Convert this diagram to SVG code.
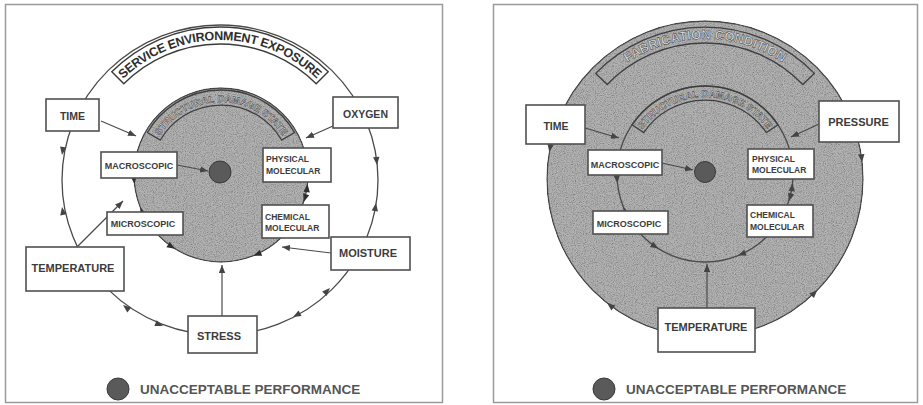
<svg xmlns="http://www.w3.org/2000/svg" xmlns:xlink="http://www.w3.org/1999/xlink" width="923" height="405" viewBox="0 0 923 405">
  <defs>
    <style>
      .frame { fill: #ffffff; stroke: #9a9a9a; stroke-width: 1.5; }
      .box { fill: #ffffff; stroke: #505050; stroke-width: 1.6; }
      .lbl { font-family: "Liberation Sans", Arial, sans-serif; font-weight: bold; fill: #3c3c3c; }
      .big { font-size: 11px; }
      .mid { font-size: 10.5px; }
      .sm { font-size: 9px; }
      .xs { font-size: 8.5px; }
      .ring { fill: none; stroke: #4a4a4a; stroke-width: 1.3; }
      .conn { fill: none; stroke: #4a4a4a; stroke-width: 1.2; marker-end: url(#arrow); }
      .disc { fill: #b2b2b2; stroke: #4a4a4a; stroke-width: 1.4; filter: url(#grain); }
      .band-white { fill: #ffffff; stroke: #3a3a3a; stroke-width: 1.4; }
      .band-grey { fill: none; stroke: #3f3f3f; stroke-width: 1.3; }
      .arc-title { font-family: "Liberation Sans", Arial, sans-serif; font-weight: bold; }
      .engraved { fill: #dadada; stroke: #333333; stroke-width: 0.45; }
      .legend { font-family: "Liberation Sans", Arial, sans-serif; font-weight: bold; font-size: 13.5px; fill: #555555; }
      .dot { fill: #5a5a5a; stroke: #3a3a3a; stroke-width: 1; }
      .ah { fill: #444444; }
      .ah-dark { fill: #2e2e2e; }
    </style>
    <filter id="grain" x="-5%" y="-5%" width="110%" height="110%" color-interpolation-filters="sRGB">
      <feTurbulence type="fractalNoise" baseFrequency="0.9" numOctaves="2" seed="7" result="noise"/>
      <feColorMatrix in="noise" type="matrix" values="0.33 0.33 0.33 0 0  0.33 0.33 0.33 0 0  0.33 0.33 0.33 0 0  0 0 0 0 1" result="gray"/>
      <feComponentTransfer in="gray" result="tex">
        <feFuncR type="linear" slope="1.1" intercept="0.4"/>
        <feFuncG type="linear" slope="1.1" intercept="0.4"/>
        <feFuncB type="linear" slope="1.1" intercept="0.4"/>
      </feComponentTransfer>
      <feBlend in="SourceGraphic" in2="tex" mode="multiply" result="mix"/>
      <feComposite in="mix" in2="SourceAlpha" operator="in"/>
    </filter>
    <marker id="arrow" markerUnits="userSpaceOnUse" markerWidth="9" markerHeight="7" refX="8" refY="3.2" orient="auto">
      <path d="M0,0 L8,3.2 L0,6.4 Z" fill="#444444"/>
    </marker>
    <!-- arrowhead glyph used along the circular paths; tip at origin, pointing +x -->
    <path id="ah" d="M0,0 L-8,-3.2 L-8,3.2 Z"/>
    <!-- text paths -->
    <path id="tp-service" d="M121,81 A140,140 0 0 1 319,81"/>
    <path id="tp-struct-l" d="M157.8,138.5 A73,73 0 0 1 284.2,138.5"/>
    <path id="tp-fab" d="M604.3,81.7 A140,140 0 0 1 805.7,81.7"/>
    <path id="tp-struct-r" d="M641.2,131 A77,77 0 0 1 768.8,131"/>
  </defs>

  <rect width="923" height="405" fill="#ffffff"/>

  <!-- ============ LEFT PANEL: service environment ============ -->
  <g id="panel-service">
    <rect class="frame" x="5.5" y="4.5" width="437" height="398"/>

    <g id="service-ring">
      <ellipse class="ring" cx="220" cy="180" rx="158" ry="155"/>
      <g class="ah">
        <use xlink:href="#ah" transform="translate(62,155) rotate(99)"/>
        <use xlink:href="#ah" transform="translate(62,207) rotate(260)"/>
        <use xlink:href="#ah" transform="translate(377,165) rotate(84.5)"/>
        <use xlink:href="#ah" transform="translate(376,203) rotate(-81.6)"/>
        <use xlink:href="#ah" transform="translate(123,305) rotate(218)"/>
        <use xlink:href="#ah" transform="translate(163,326) rotate(21)"/>
        <use xlink:href="#ah" transform="translate(293,317) rotate(152)"/>
        <use xlink:href="#ah" transform="translate(330,288) rotate(-45.5)"/>
      </g>
    </g>

    <g id="service-band">
      <path class="band-white" d="M111.8,71.8 A153,153 0 0 1 328.2,71.8 L316.2,83.8 A136,136 0 0 0 123.8,83.8 Z"/>
      <text class="arc-title" font-size="12.5" fill="#2e2e2e"><textPath xlink:href="#tp-service" startOffset="50%" text-anchor="middle" textLength="214" lengthAdjust="spacing">SERVICE ENVIRONMENT EXPOSURE</textPath></text>
    </g>

    <g id="damage-state-l">
      <circle class="disc" cx="221" cy="175" r="87"/>
      <path class="band-grey" d="M147.4,132.5 A85,85 0 0 1 294.6,132.5 L281.6,140 A70,70 0 0 0 160.4,140 Z"/>
      <text class="arc-title engraved" font-size="9.5"><textPath xlink:href="#tp-struct-l" startOffset="50%" text-anchor="middle" textLength="146" lengthAdjust="spacing">STRUCTURAL DAMAGE STATE</textPath></text>
      <g class="ah-dark">
        <use xlink:href="#ah" transform="translate(134.5,184.1) rotate(84)"/>
        <use xlink:href="#ah" transform="translate(140.3,207.6) rotate(248)"/>
        <use xlink:href="#ah" transform="translate(307.5,184.1) rotate(-84)"/>
        <use xlink:href="#ah" transform="translate(303.7,201.9) rotate(108)"/>
        <use xlink:href="#ah" transform="translate(174.9,248.8) rotate(32)"/>
        <use xlink:href="#ah" transform="translate(253.6,255.7) rotate(158)"/>
      </g>
      <circle class="dot" cx="220" cy="172" r="11"/>
    </g>

    <g id="connectors-l">
      <path class="conn" d="M101,121 L136,136"/>
      <path class="conn" d="M333,126 L306,138"/>
      <path class="conn" d="M177,165 L208,171"/>
      <path class="conn" d="M77,247 L123,201"/>
      <path class="conn" d="M222,316 L222,265"/>
      <path class="conn" d="M331,253 L282,247"/>
    </g>

    <g id="time-l">
      <rect class="box" x="46" y="99" width="53" height="32"/>
      <text class="lbl mid" x="72.5" y="120" text-anchor="middle">TIME</text>
    </g>
    <g id="oxygen">
      <rect class="box" x="333" y="97" width="65" height="31"/>
      <text class="lbl mid" x="365.5" y="118" text-anchor="middle">OXYGEN</text>
    </g>
    <g id="macroscopic-l">
      <rect class="box" x="101" y="152" width="76" height="26"/>
      <text class="lbl sm" x="139" y="168.5" text-anchor="middle">MACROSCOPIC</text>
    </g>
    <g id="physical-l">
      <rect class="box" x="263" y="148" width="68" height="34"/>
      <text class="lbl xs" x="266" y="162">PHYSICAL</text>
      <text class="lbl xs" x="266" y="174">MOLECULAR</text>
    </g>
    <g id="microscopic-l">
      <rect class="box" x="107" y="212" width="76" height="23"/>
      <text class="lbl sm" x="143" y="227" text-anchor="middle">MICROSCOPIC</text>
    </g>
    <g id="chemical-l">
      <rect class="box" x="262" y="205" width="67" height="33"/>
      <text class="lbl xs" x="265" y="220">CHEMICAL</text>
      <text class="lbl xs" x="265" y="231">MOLECULAR</text>
    </g>
    <g id="temperature-l">
      <rect class="box" x="26" y="247" width="98" height="44"/>
      <text class="lbl big" x="73" y="272" text-anchor="middle">TEMPERATURE</text>
    </g>
    <g id="moisture">
      <rect class="box" x="331" y="237" width="79" height="33"/>
      <text class="lbl big" x="368" y="257" text-anchor="middle">MOISTURE</text>
    </g>
    <g id="stress">
      <rect class="box" x="188" y="316" width="69" height="37"/>
      <text class="lbl big" x="219" y="340" text-anchor="middle">STRESS</text>
    </g>

    <g id="legend-l">
      <circle class="dot" cx="118" cy="389" r="11"/>
      <text class="legend" x="140" y="394">UNACCEPTABLE PERFORMANCE</text>
    </g>
  </g>

  <!-- ============ RIGHT PANEL: fabrication condition ============ -->
  <g id="panel-fabrication">
    <rect class="frame" x="493.5" y="4.5" width="424" height="398"/>

    <g id="fabrication-disc">
      <circle class="disc" cx="705" cy="179" r="158"/>
      <path class="band-grey" d="M595.7,73.4 A152,152 0 0 1 814.3,73.4 L802.8,84.5 A136,136 0 0 0 607.2,84.5 Z"/>
      <text class="arc-title engraved" font-size="13"><textPath xlink:href="#tp-fab" startOffset="50%" text-anchor="middle">FABRICATION CONDITION</textPath></text>
      <g class="ah">
        <use xlink:href="#ah" transform="translate(549.3,152.1) rotate(99.8)"/>
        <use xlink:href="#ah" transform="translate(607.1,303) rotate(218.3)"/>
        <use xlink:href="#ah" transform="translate(862.1,162.2) rotate(83.9)"/>
        <use xlink:href="#ah" transform="translate(817.3,290.1) rotate(-45.3)"/>
      </g>
    </g>

    <g id="damage-state-r">
      <circle class="ring" cx="705" cy="174" r="88"/>
      <path class="band-grey" d="M632,124.8 A88,88 0 0 1 778,124.8 L766.3,132.6 A74,74 0 0 0 643.7,132.6 Z"/>
      <text class="arc-title engraved" font-size="9.5"><textPath xlink:href="#tp-struct-r" startOffset="50%" text-anchor="middle" textLength="146" lengthAdjust="spacing">STRUCTURAL DAMAGE STATE</textPath></text>
      <g class="ah">
        <use xlink:href="#ah" transform="translate(617.5,183.2) rotate(84)"/>
        <use xlink:href="#ah" transform="translate(623.4,207) rotate(248)"/>
        <use xlink:href="#ah" transform="translate(792.5,183.2) rotate(-84)"/>
        <use xlink:href="#ah" transform="translate(788.7,201.2) rotate(108)"/>
        <use xlink:href="#ah" transform="translate(658.4,248.6) rotate(32)"/>
        <use xlink:href="#ah" transform="translate(738,255.6) rotate(158)"/>
      </g>
      <circle class="dot" cx="705" cy="172" r="10.5"/>
    </g>

    <g id="connectors-r">
      <path class="conn" d="M585,128 L619,138"/>
      <path class="conn" d="M819,124 L791,137"/>
      <path class="conn" d="M662,163 L693,170"/>
      <path class="conn" d="M707,308 L707,264"/>
    </g>

    <g id="time-r">
      <rect class="box" x="526" y="105" width="59" height="39"/>
      <text class="lbl mid" x="556" y="130" text-anchor="middle">TIME</text>
    </g>
    <g id="pressure">
      <rect class="box" x="819" y="101" width="80" height="41"/>
      <text class="lbl big" x="858.5" y="126" text-anchor="middle">PRESSURE</text>
    </g>
    <g id="macroscopic-r">
      <rect class="box" x="588" y="150" width="74" height="25"/>
      <text class="lbl sm" x="625" y="167.5" text-anchor="middle">MACROSCOPIC</text>
    </g>
    <g id="physical-r">
      <rect class="box" x="748" y="149" width="66" height="30"/>
      <text class="lbl xs" x="752" y="162">PHYSICAL</text>
      <text class="lbl xs" x="752" y="173">MOLECULAR</text>
    </g>
    <g id="microscopic-r">
      <rect class="box" x="593" y="211" width="75" height="23"/>
      <text class="lbl sm" x="629" y="227" text-anchor="middle">MICROSCOPIC</text>
    </g>
    <g id="chemical-r">
      <rect class="box" x="747" y="205" width="66" height="32"/>
      <text class="lbl xs" x="750" y="218">CHEMICAL</text>
      <text class="lbl xs" x="750" y="230">MOLECULAR</text>
    </g>
    <g id="temperature-r">
      <rect class="box" x="658" y="308" width="97" height="44"/>
      <text class="lbl big" x="706" y="331" text-anchor="middle">TEMPERATURE</text>
    </g>

    <g id="legend-r">
      <circle class="dot" cx="604" cy="389" r="11"/>
      <text class="legend" x="626" y="394">UNACCEPTABLE PERFORMANCE</text>
    </g>
  </g>
</svg>
